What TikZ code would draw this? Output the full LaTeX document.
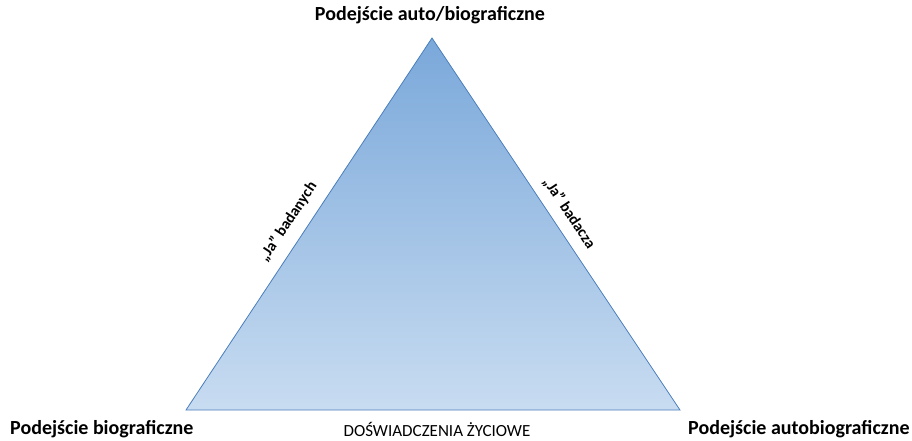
\documentclass[tikz,border=0pt]{standalone}
\usepackage{fontspec}
\setmainfont{Carlito}
\begin{document}
\begin{tikzpicture}[x=1pt,y=-1pt,
  corner/.style={font=\bfseries\fontsize{20}{22}\selectfont, inner sep=0pt},
  side/.style={font=\bfseries\fontsize{15.5}{17}\selectfont, inner sep=0pt},
  base/.style={font=\fontsize{17}{19}\selectfont, inner sep=0pt}]
\useasboundingbox (0,0) rectangle (912,441);
\coordinate (A) at (432,38);
\coordinate (L) at (186,410);
\coordinate (R) at (680,410);
\shade[top color={rgb,255:red,122;green,168;blue,218}, bottom color={rgb,255:red,200;green,220;blue,241}]
  (A) -- (L) -- (R) -- cycle;
\draw[draw={rgb,255:red,74;green,126;blue,187}, line width=0.8pt, line join=miter] (A) -- (L) -- (R) -- cycle;
\node[corner] (top) at (430,15) {Podejście auto/biograficzne};
\node[corner, anchor=west] (bl) at (10,429) {Podejście biograficzne};
\node[corner, anchor=west] (br) at (688,429) {Podejście autobiograficzne};
\node[base] (mid) at (437,429) {DOŚWIADCZENIA ŻYCIOWE};
\node[side, rotate=56.5] (lj) at (288,222) {„Ja” badanych};
\node[side, rotate=-56.5] (rj) at (569,213) {„Ja” badacza};
\end{tikzpicture}
\end{document}
